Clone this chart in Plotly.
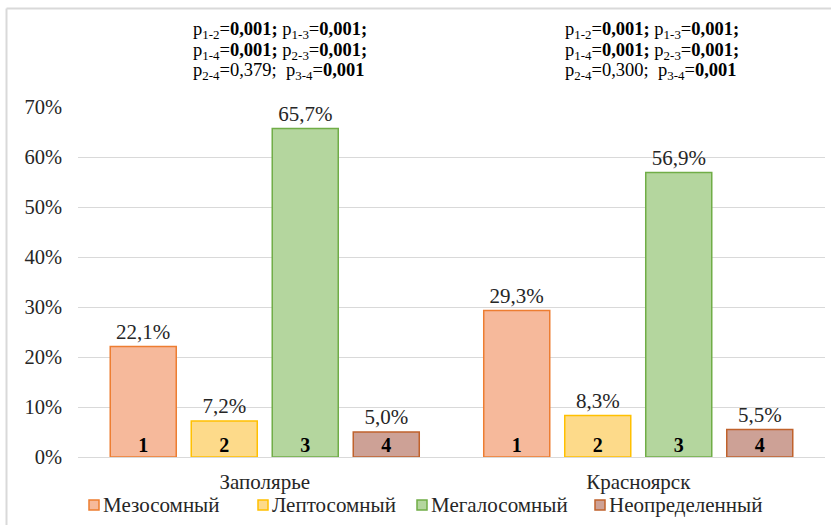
import plotly.graph_objects as go

# Data
regions = ["Заполярье", "Красноярск"]
types = ["Мезосомный", "Лептосомный", "Мегалосомный", "Неопределенный"]
type_numbers = ["1", "2", "3", "4"]
shares = {
    "Мезосомный": [22.1, 29.3],
    "Лептосомный": [7.2, 8.3],
    "Мегалосомный": [65.7, 56.9],
    "Неопределенный": [5.0, 5.5],
}
y_ticks = [0, 10, 20, 30, 40, 50, 60, 70]
p_text = {
    "Заполярье": [
        "p<sub>1-2</sub>=<b>0,001;</b> p<sub>1-3</sub>=<b>0,001;</b>",
        "p<sub>1-4</sub>=<b>0,001;</b> p<sub>2-3</sub>=<b>0,001;</b>",
        "p<sub>2-4</sub>=0,379;  p<sub>3-4</sub>=<b>0,001</b>",
    ],
    "Красноярск": [
        "p<sub>1-2</sub>=<b>0,001;</b> p<sub>1-3</sub>=<b>0,001;</b>",
        "p<sub>1-4</sub>=<b>0,001;</b> p<sub>2-3</sub>=<b>0,001;</b>",
        "p<sub>2-4</sub>=0,300;  p<sub>3-4</sub>=<b>0,001</b>",
    ],
}

fills = ["#F6B99B", "#FDDA8A", "#B4D69E", "#CDA196"]
borders = ["#ED7D31", "#FFC000", "#70AD47", "#C0622C"]

FONT = "Liberation Serif"
TXT = "#262626"

W, H = 831, 525
L, R, T, B = 78, 6, 107, 68
pw, ph = W - L - R, H - T - B


def px(x):
    return (x - L) / pw


def py(y):
    return (H - B - y) / ph


fig = go.Figure()

for i, t in enumerate(types):
    vals = shares[t]
    fig.add_trace(go.Bar(
        x=regions, y=vals, name=t, offsetgroup=str(i),
        marker=dict(color=fills[i], line=dict(color=borders[i], width=1.5)),
        text=[f"{v:.1f}%".replace(".", ",") for v in vals],
        textposition="outside", constraintext="none", cliponaxis=False,
        textfont=dict(family=FONT, size=21, color=TXT),
        showlegend=False,
    ))

# Type numbers printed at the foot of each bar
for i, t in enumerate(types):
    fig.add_trace(go.Scatter(
        x=regions, y=[0, 0], mode="text", offsetgroup=str(i),
        text=[type_numbers[i]] * len(regions), textposition="top center",
        textfont=dict(family=FONT, size=20, color="#000000"),
        texttemplate="<b>%{text}</b>", cliponaxis=False,
        showlegend=False, hoverinfo="skip",
    ))

annotations = []
# p-value blocks above each region
block_left = {"Заполярье": 191, "Красноярск": 563}
line_y = [30, 51, 72]
for reg, lines in p_text.items():
    for j, ln in enumerate(lines):
        annotations.append(dict(
            xref="paper", yref="paper", x=px(block_left[reg]), y=py(line_y[j]),
            xanchor="left", yanchor="middle", text=ln, showarrow=False,
            font=dict(family=FONT, size=18.5, color="#000000"),
        ))

# Legend drawn below the axis
legend_x = [89, 258, 417, 595]
legend_y = 505
shapes = []
for i, t in enumerate(types):
    shapes.append(dict(
        type="rect", xref="paper", yref="paper",
        x0=px(legend_x[i]), x1=px(legend_x[i] + 10),
        y0=py(legend_y + 5), y1=py(legend_y - 5),
        fillcolor=fills[i], line=dict(color=borders[i], width=1.5),
    ))
    annotations.append(dict(
        xref="paper", yref="paper", x=px(legend_x[i] + 12), y=py(legend_y),
        xanchor="left", yanchor="middle", text=t, showarrow=False,
        font=dict(family=FONT, size=21, color=TXT),
    ))

# Chart frame
frame = dict(color="#D9D9D9", width=2)
shapes.append(dict(type="line", xref="paper", yref="paper",
                   x0=px(6.5), x1=px(6.5), y0=py(8.5), y1=py(H + 5), line=frame))
shapes.append(dict(type="line", xref="paper", yref="paper",
                   x0=px(6.5), x1=px(W + 5), y0=py(8.5), y1=py(8.5), line=frame))

fig.update_layout(
    width=W, height=H,
    margin=dict(l=L, r=R, t=T, b=B),
    paper_bgcolor="white", plot_bgcolor="white",
    barmode="group", bargap=0.1325, bargroupgap=0.185,
    scattermode="group", scattergap=0.1325,
    font=dict(family=FONT, size=20, color=TXT),
    xaxis=dict(
        showgrid=False, showline=False, ticks="", ticklabelstandoff=10,
        tickfont=dict(family=FONT, size=21, color=TXT),
    ),
    yaxis=dict(
        range=[0, 70], tickvals=y_ticks,
        ticktext=[f"{v}%" for v in y_ticks],
        showgrid=True, gridcolor="#D9D9D9", gridwidth=1,
        zeroline=True, zerolinecolor="#D9D9D9", zerolinewidth=1,
        showline=False, ticks="", ticklabelstandoff=15,
        tickfont=dict(family=FONT, size=20.5, color=TXT),
    ),
    annotations=annotations,
    shapes=shapes,
)

fig.write_html("out.html")
